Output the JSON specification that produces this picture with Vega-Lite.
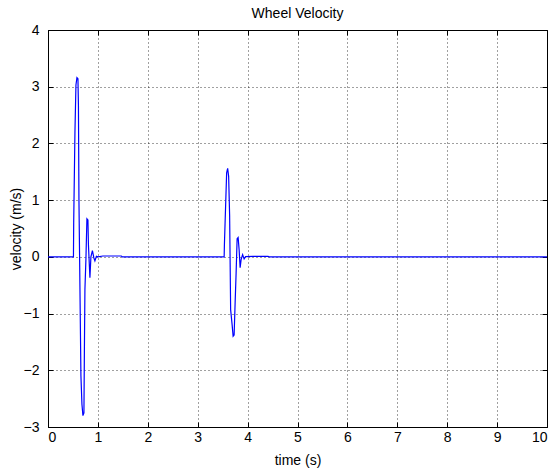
{
  "$schema": "https://vega.github.io/schema/vega-lite/v6.json",
  "autosize": "none",
  "width": 499,
  "height": 397,
  "padding": {"left": 48, "top": 30, "right": 10, "bottom": 46},
  "background": "white",
  "config": {
    "view": {"stroke": "black", "strokeWidth": 1},
    "font": "Liberation Sans",
    "axis": {
      "domain": false,
      "grid": true,
      "gridColor": "#000000",
      "gridDash": [1, 3],
      "gridOpacity": 0.75,
      "tickColor": "#000000",
      "tickSize": -5,
      "labelColor": "#000000",
      "labelFont": "Liberation Sans",
      "labelFontSize": 14,
      "titleFont": "Liberation Sans",
      "titleFontSize": 14,
      "titleFontWeight": "normal",
      "titleColor": "#000000"
    }
  },
  "title": {"text": "Wheel Velocity", "fontSize": 14, "fontWeight": "normal", "font": "Liberation Sans", "offset": 2, "color": "#000000"},
  "data": {
    "values": [
      {"t": 0, "v": 0},
      {"t": 0.51, "v": 0},
      {"t": 0.515, "v": 0.61},
      {"t": 0.54, "v": 2.2},
      {"t": 0.56, "v": 3.03},
      {"t": 0.58, "v": 3.16},
      {"t": 0.60, "v": 3.14},
      {"t": 0.61, "v": 2.67},
      {"t": 0.62, "v": 1.02},
      {"t": 0.64, "v": -0.54},
      {"t": 0.66, "v": -2.1},
      {"t": 0.68, "v": -2.6},
      {"t": 0.70, "v": -2.8},
      {"t": 0.72, "v": -2.75},
      {"t": 0.73, "v": -1.58},
      {"t": 0.74, "v": -0.57},
      {"t": 0.76, "v": -0.04},
      {"t": 0.78, "v": 0.67},
      {"t": 0.80, "v": 0.65},
      {"t": 0.81, "v": 0.22},
      {"t": 0.84, "v": -0.37},
      {"t": 0.86, "v": 0.0},
      {"t": 0.89, "v": 0.11},
      {"t": 0.92, "v": -0.02},
      {"t": 0.94, "v": -0.07},
      {"t": 0.97, "v": 0.01},
      {"t": 1.0, "v": 0},
      {"t": 1.1, "v": 0.015},
      {"t": 1.47, "v": 0.015},
      {"t": 1.49, "v": 0},
      {"t": 3.53, "v": 0},
      {"t": 3.535, "v": 0.21},
      {"t": 3.56, "v": 0.92},
      {"t": 3.58, "v": 1.48},
      {"t": 3.60, "v": 1.56},
      {"t": 3.62, "v": 1.42},
      {"t": 3.64, "v": 0.72},
      {"t": 3.66, "v": -0.93},
      {"t": 3.69, "v": -1.2},
      {"t": 3.71, "v": -1.4},
      {"t": 3.73, "v": -1.38},
      {"t": 3.75, "v": -0.81},
      {"t": 3.77, "v": -0.28},
      {"t": 3.79, "v": 0.32},
      {"t": 3.81, "v": 0.34},
      {"t": 3.83, "v": 0.13},
      {"t": 3.85, "v": -0.19},
      {"t": 3.87, "v": -0.05},
      {"t": 3.90, "v": 0.04},
      {"t": 3.93, "v": -0.035},
      {"t": 3.96, "v": 0.005},
      {"t": 4.11, "v": 0.01},
      {"t": 4.41, "v": 0.01},
      {"t": 4.43, "v": 0},
      {"t": 10, "v": 0}
    ]
  },
  "resolve": {"axis": {"x": "independent", "y": "independent"}},
  "layer": [
    {
      "mark": {"type": "line", "color": "#0000ff", "strokeWidth": 1.2, "clip": true},
      "encoding": {
        "x": {"field": "t", "type": "quantitative", "scale": {"domain": [0, 10], "nice": false}, "axis": {"values": [0,1,2,3,4,5,6,7,8,9,10], "title": "time (s)", "labelPadding": 8, "titlePadding": 9, "format": "d"}},
        "y": {"field": "v", "type": "quantitative", "scale": {"domain": [-3, 4], "nice": false, "zero": false}, "axis": {"values": [-3,-2,-1,0,1,2,3,4], "title": "velocity (m/s)", "labelPadding": 14, "titlePadding": 0, "format": "d"}}
      }
    },
    {
      "mark": {"type": "line", "opacity": 0},
      "encoding": {
        "x": {"field": "t", "type": "quantitative", "axis": {"orient": "top", "values": [0,1,2,3,4,5,6,7,8,9,10], "labels": false, "grid": false, "title": null}},
        "y": {"field": "v", "type": "quantitative", "axis": {"orient": "right", "values": [-3,-2,-1,0,1,2,3,4], "labels": false, "grid": false, "title": null}}
      }
    }
  ]
}
